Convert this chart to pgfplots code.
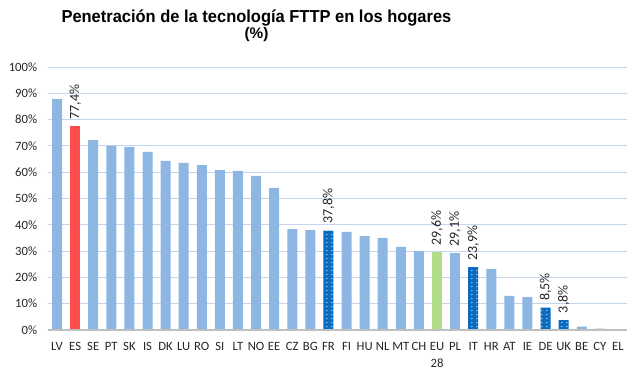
\documentclass[border=0pt]{standalone}
\usepackage{pgfplots}
\pgfplotsset{compat=1.18}
\usepackage{graphicx}
\usepackage{fontspec}
\setmainfont{Carlito}
\newfontfamily\titlefont{Liberation Sans}
\usetikzlibrary{patterns}
\pgfdeclarepatternformonly{sparsedots}{\pgfqpoint{-1pt}{-1pt}}{\pgfqpoint{4pt}{4pt}}{\pgfqpoint{3.75pt}{3pt}}{%
  \pgfpathcircle{\pgfqpoint{1.4pt}{1pt}}{0.45pt}\pgfusepath{fill}}
\definecolor{lb}{HTML}{8DB6E2}
\definecolor{rd}{HTML}{FF4B4B}
\definecolor{gr}{HTML}{B1DC88}
\definecolor{db}{HTML}{0A6CC0}
\definecolor{grid}{HTML}{C6D5EE}
\definecolor{axg}{HTML}{BFBFBF}
\begin{document}
\begin{tikzpicture}
\begin{axis}[
  scale only axis,
  width=434.25pt, height=197.25pt,
  xmin=-0.5, xmax=31.5,
  ymin=0, ymax=100,
  ytick={0,10,...,100},
  yticklabel={\pgfmathprintnumber{\tick}\%},
  /pgf/number format/assume math mode=true,
  xtick={0,...,31},
  xticklabels={LV,ES,SE,PT,SK,IS,DK,LU,RO,SI,LT,NO,EE,CZ,BG,FR,FI,HU,NL,MT,CH,{EU\\28},PL,IT,HR,AT,IE,DE,UK,BE,CY,EL},
  xticklabel style={align=center, font=\fontsize{9.5}{13}\selectfont, color=black!85, anchor=north, inner sep=0pt, yshift=-4.5pt},
  yticklabel style={font=\fontsize{9.5}{10}\selectfont, color=black!85, inner sep=0pt, xshift=-8pt},
  tick style={draw=none},
  ymajorgrids,
  grid style={draw=grid, line width=0.7pt},
  axis line style={draw=none},
  axis x line*=bottom,
  axis y line*=left,
  ybar, bar width=7.5pt, bar shift=0pt,
  nodes near coords style={rotate=90, anchor=west, font=\fontsize{10.5}{11}\selectfont, color=black!85, inner xsep=5pt, inner ysep=1pt},
  every node near coord/.append style={/pgf/number format/.cd, fixed, precision=1, zerofill, use comma},
  clip=false,
]
\addplot[fill=lb, draw=none] coordinates {
(0,87.8)(2,72.2)(3,70.0)(4,69.6)(5,67.7)(6,64.3)(7,63.5)(8,62.7)(9,60.8)(10,60.5)(11,58.6)(12,54.0)(13,38.4)(14,38.0)(16,37.3)(17,35.7)(18,35.0)(19,31.6)(20,30.0)(24,23.2)(25,13.0)(26,12.5)(29,1.3)(30,0.5)(31,0)
};
\addplot[fill=lb, draw=none, nodes near coords={\pgfmathprintnumber{\pgfplotspointmeta}\%}] coordinates {(22,29.1)};
\addplot[fill=rd, draw=none, nodes near coords={\pgfmathprintnumber{\pgfplotspointmeta}\%}] coordinates {(1,77.4)};
\addplot[fill=gr, draw=none, nodes near coords={\pgfmathprintnumber{\pgfplotspointmeta}\%}] coordinates {(21,29.6)};
\addplot[fill=db, draw=none, postaction={pattern=sparsedots, pattern color=white}, nodes near coords={\pgfmathprintnumber{\pgfplotspointmeta}\%}] coordinates {(15,37.8)(23,23.9)(27,8.5)(28,3.8)};
\draw[axg, line width=1.5pt] (axis cs:-0.5,0) -- (axis cs:31.5,0);
\coordinate (bl) at (rel axis cs:0,0);
\coordinate (tr) at (rel axis cs:1,1);
\node[font=\titlefont\bfseries\fontsize{13}{15}\selectfont, inner sep=0pt] at ([yshift=36.5pt]rel axis cs:0.36,1) {\scalebox{0.95}[1]{Penetración de la tecnología FTTP en los hogares}};
\node[font=\titlefont\bfseries\fontsize{11.5}{13}\selectfont, inner sep=0pt] at ([yshift=24pt]rel axis cs:0.36,1) {(\%)};
\end{axis}
\pgfresetboundingbox
\path ([shift={(-36pt,-34.5pt)}]bl) rectangle ([shift={(11.25pt,50.25pt)}]tr);
\end{tikzpicture}
\end{document}
